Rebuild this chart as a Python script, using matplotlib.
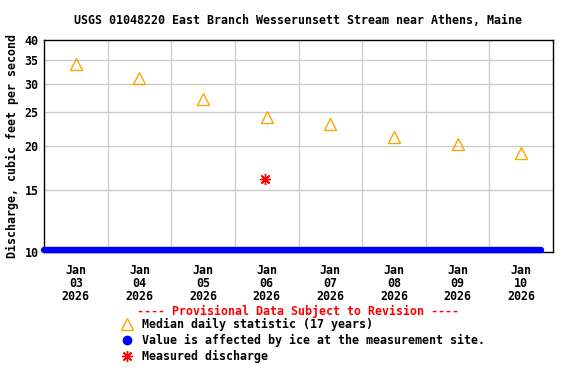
import matplotlib
matplotlib.use("Agg")
import matplotlib.pyplot as plt
from datetime import datetime, timedelta

title = "USGS 01048220 East Branch Wesserunsett Stream near Athens, Maine"
ylabel = "Discharge, cubic feet per second"

median_dates = [datetime(2026, 1, d, 12) for d in range(3, 11)]
median_values = [34.2, 31.2, 27.2, 24.2, 23.1, 21.2, 20.2, 19.1]

ice_start = datetime(2026, 1, 3, 0, 0)
ice_end = datetime(2026, 1, 10, 19, 30)
ice_value = 10.13

measured_dates = [datetime(2026, 1, 6, 11, 20)]
measured_values = [16.1]

yticks = [10, 15, 20, 25, 30, 35, 40]
xlabel_days = ["03", "04", "05", "06", "07", "08", "09", "10"]

FONT = dict(family="DejaVu Sans Mono", fontweight="bold", fontsize=8.4)

fig = plt.figure(figsize=(5.76, 3.84), dpi=100)
ax = fig.add_axes([44/576, 1-252/384, (553-44)/576, (252-40)/384])
ax.set_yscale("log")
ax.set_ylim(10, 40)
x0 = datetime(2026, 1, 3)
x1 = datetime(2026, 1, 11)
ax.set_xlim(x0, x1)

# grid
for y in yticks[1:-1]:
    ax.axhline(y, color="#cccccc", lw=1, zorder=0)
for i in range(1, 8):
    ax.axvline(x0 + timedelta(days=i), color="#cccccc", lw=1, zorder=0)

ax.plot([ice_start, ice_end], [ice_value, ice_value], color="#0000ff", lw=4.6,
        solid_capstyle="round", clip_on=False, zorder=3)
ax.plot(median_dates, median_values, linestyle="none", marker="^", markersize=8,
        mfc="none", mec="#ffa500", mew=1, zorder=4)
ax.plot(measured_dates, measured_values, linestyle="none", marker=(8, 2, 0),
        markersize=8, color="#ff0000", mew=1, zorder=4)

ax.set_yticks(yticks)
ax.set_yticklabels([str(v) for v in yticks], **FONT)
ax.yaxis.set_minor_locator(matplotlib.ticker.NullLocator())
ax.set_xticks(median_dates)
ax.set_xticklabels([f"Jan\n{d}\n2026" for d in xlabel_days], **FONT, linespacing=0.95)
ax.tick_params(axis="both", length=0, pad=4)
ax.tick_params(axis="x", pad=9)
for s in ax.spines.values():
    s.set_linewidth(1)
    s.set_color("black")

ax.set_ylabel(ylabel, **FONT, labelpad=4)
fig.text(298.5/576, 1-20/384, title, ha="center", va="center", **FONT)

fig.text(298/576, 1-311/384, "---- Provisional Data Subject to Revision ----",
         ha="center", va="center", color="#ff0000", **FONT)
legend_items = [
    ("Median daily statistic (17 years)", dict(marker="^", mfc="none", mec="#ffa500", mew=1, markersize=8)),
    ("Value is affected by ice at the measurement site.", dict(marker="o", color="#0000ff", markersize=6)),
    ("Measured discharge", dict(marker=(8, 2, 0), color="#ff0000", mew=1, markersize=8)),
]
for i, (label, style) in enumerate(legend_items):
    yy = 1 - (324 + 16*i)/384
    fig.lines.append(matplotlib.lines.Line2D([127/576], [yy], transform=fig.transFigure,
                                             linestyle="none", **style))
    fig.text(142/576, yy, label, ha="left", va="center", **FONT)

fig.savefig("out.png", dpi=100)
